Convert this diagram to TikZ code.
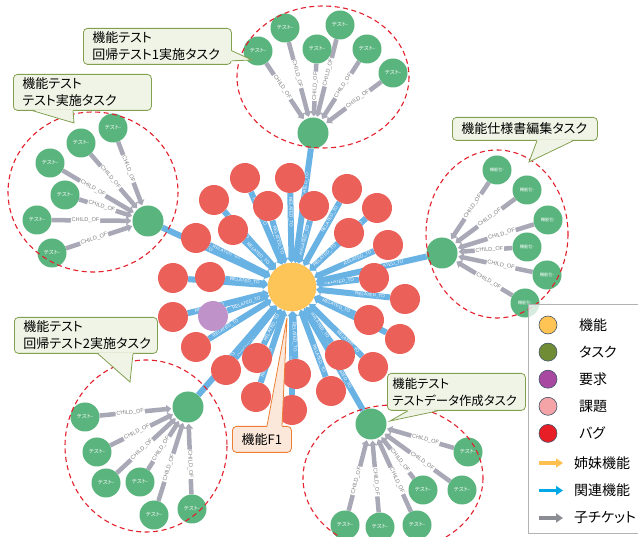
\documentclass[tikz,border=0pt]{standalone}
\usepackage{fontspec}
\setsansfont{Liberation Sans}
\newfontfamily\jp[RawFeature=+palt]{Noto Sans CJK JP}
\usetikzlibrary{arrows.meta,calc}
\pgfdeclarelayer{bg}
\pgfsetlayers{bg,main}

\definecolor{featyellow}{RGB}{253,196,88}
\definecolor{bugred}{RGB}{236,96,90}
\definecolor{reqpurple}{RGB}{192,146,202}
\definecolor{taskgreen}{RGB}{90,180,126}
\definecolor{relblue}{RGB}{104,178,228}
\definecolor{chgray}{RGB}{168,168,182}
\definecolor{grpred}{RGB}{228,32,44}
\definecolor{calloutfill}{RGB}{240,244,230}
\definecolor{calloutline}{RGB}{130,160,80}
\definecolor{notefill}{RGB}{252,232,218}
\definecolor{noteline}{RGB}{236,125,50}
\definecolor{legrim}{RGB}{68,84,106}
\definecolor{legyellow}{RGB}{255,196,84}
\definecolor{leggreen}{RGB}{112,140,52}
\definecolor{legpurple}{RGB}{168,72,160}
\definecolor{legpink}{RGB}{244,164,166}
\definecolor{legred}{RGB}{232,30,38}
\definecolor{sisterarrow}{RGB}{255,192,80}
\definecolor{relarrow}{RGB}{0,168,230}
\definecolor{childarrow}{RGB}{140,140,148}

\begin{document}
\begin{tikzpicture}[x=1pt,y=-1pt,
  feat/.style={circle,fill=featyellow,draw=featyellow!85!orange,minimum size=48pt,inner sep=0},
  bug/.style={circle,fill=bugred,minimum size=30pt,inner sep=0},
  req/.style={circle,fill=reqpurple,minimum size=30pt,inner sep=0},
  task/.style={circle,fill=taskgreen,minimum size=31pt,inner sep=0},
  sub/.style={circle,fill=taskgreen,minimum size=29pt,inner sep=0,text=white,font=\jp\fontsize{5.5}{5.5}\selectfont},
  rel/.style={draw=relblue,line width=6pt,-{Triangle[length=5pt,width=9pt]}},
  rlab/.style={sloped,text=white,font=\sffamily\fontsize{4.6}{4.6}\selectfont,inner sep=0.3pt},
  chld/.style={draw=chgray,line width=4.5pt,-{Triangle[length=5pt,width=8pt]},shorten >=1pt},
  clab/.style={sloped,fill=white,text=gray,font=\sffamily\fontsize{5.6}{5.6}\selectfont,inner sep=0.8pt},
  grp/.style={draw=grpred,line width=1.1pt,dash pattern=on 5pt off 3.5pt},
  callout/.style={draw=calloutline,fill=calloutfill,line width=0.8pt,rounded corners=4pt,anchor=north west,inner xsep=9pt,inner ysep=2pt,align=left,font=\jp\fontsize{13}{17}\selectfont},
  note/.style={callout,draw=noteline,fill=notefill,inner xsep=8pt},
  legdot/.style={circle,draw=legrim,line width=0.6pt,minimum size=18pt,inner sep=0},
  legtext/.style={anchor=west,font=\jp\fontsize{14}{14}\selectfont,inner sep=0},
  legarrow/.style={line width=3.5pt,-{Triangle[length=7pt,width=9pt]}}
]
\useasboundingbox (0,0) rectangle (638,537);

% feature, bugs, tasks
\node[feat] (feat) at (292,287) {};
\foreach \n/\x/\y in {b1/245/178, b2/290/178, b3/214/200, b4/268/206, b5/314/206,
    b6/347/189, b7/377/208, b8/233/230, b9/349/233, b10/388/245, b11/196/238,
    b12/210/277, b13/173/278, b14/374/278, b15/405/299, b16/173/317, b17/369/320,
    b18/400/339, b19/196/347, b20/226/370, b21/257/358, b22/340/355, b23/373/367,
    b24/256/397, b25/296/374, b26/331/391, b27/292/410}
  \node[bug] (\n) at (\x,\y) {};
\node[req] (q1) at (213,316) {};
\node[task] (gTop) at (313,133) {};
\node[task] (gLeft) at (148,221) {};
\node[task] (gRight) at (442,253) {};
\node[task] (gBL) at (188,407) {};
\node[task] (gBR) at (371,424) {};

% child tickets
\foreach \n/\x/\y in {ct1/258/51, ct2/285/28, ct3/317/49, ct4/340/25, ct5/367/49, ct6/393/73}
  \node[sub] (\n) at (\x,\y) {テスト-};
\foreach \n/\x/\y in {cl1/113/128, cl2/81/143, cl3/50/163, cl4/65/195, cl5/37/220, cl6/52/253}
  \node[sub] (\n) at (\x,\y) {テスト-};
\foreach \n/\x/\y in {cr1/497/170, cr2/527/190, cr3/548/220, cr4/527/247, cr5/547/275, cr6/525/303}
  \node[sub,font=\jp\fontsize{4.3}{4.3}\selectfont] (\n) at (\x,\y) {機能仕-};
\foreach \n/\x/\y in {cm1/85/417, cm2/97/452, cm3/106/483, cm4/140/482, cm5/154/515, cm6/192/509}
  \node[sub] (\n) at (\x,\y) {テスト-};
\foreach \n/\x/\y in {cn1/468/452, cn2/462/490, cn3/423/490, cn4/417/525, cn5/380/527, cn6/345/525}
  \node[sub] (\n) at (\x,\y) {テスト-};

\begin{pgfonlayer}{bg}
  \fill[white] (0,0) rectangle (638,537);
  % outer ring
  \foreach \n in {b1,b2,b3,b6,b7,b10,b11,b13,b15,b16,b18,b19,b20,b23,b24,b26,b27}
    \draw[rel] (\n) -- node[rlab,pos=0.27] {RELATED\_TO} (feat);
  % inner ring
  \foreach \n in {b4,b5,b8,b9,b12,b14,b17,b21,b22,b25,q1}
    \draw[rel] (\n) -- node[rlab,pos=0.46] {RELATED\_TO} (feat);
  \foreach \n in {gTop,gLeft,gRight,gBL,gBR}
    \draw[rel] (\n) -- node[rlab,pos=0.34] {RELATED\_TO} (feat);
  \foreach \n in {ct1,ct2,ct3,ct4,ct5,ct6}
    \draw[chld] (\n) -- node[clab,pos=0.42] {CHILD\_OF} (gTop);
  \foreach \n in {cl1,cl2,cl3,cl4,cl5,cl6}
    \draw[chld] (\n) -- node[clab,pos=0.42] {CHILD\_OF} (gLeft);
  \foreach \n in {cr1,cr2,cr3,cr4,cr5,cr6}
    \draw[chld] (\n) -- node[clab,pos=0.42] {CHILD\_OF} (gRight);
  \foreach \n in {cm1,cm2,cm3,cm4,cm5,cm6}
    \draw[chld] (\n) -- node[clab,pos=0.42] {CHILD\_OF} (gBL);
  \foreach \n in {cn1,cn2,cn3,cn4,cn5,cn6}
    \draw[chld] (\n) -- node[clab,pos=0.42] {CHILD\_OF} (gBR);
\end{pgfonlayer}

% groups
\draw[grp] (323,77) ellipse [x radius=86, y radius=71];
\draw[grp] (93,192) ellipse [x radius=85, y radius=80];
\draw[grp] (497,234) ellipse [x radius=71, y radius=84];
\draw[grp] (146,446) ellipse [x radius=81, y radius=86];
\draw[grp] (393,478) ellipse [x radius=90, y radius=73];

% callouts
\node[callout,text width=130pt,minimum height=36pt] (c1) at (83,28) {機能テスト\\回帰テスト1実施タスク};
\node[callout,text width=120pt,minimum height=36pt] (c2) at (13,74) {機能テスト\\テスト実施タスク};
\node[callout,text width=127pt,minimum height=23pt] (c3) at (452,117) {機能仕様書編集タスク};
\node[callout,text width=125pt,minimum height=36pt] (c4) at (14,317) {機能テスト\\回帰テスト2実施タスク};
\node[callout,text width=128pt,inner xsep=5pt,minimum height=37pt,font=\jp\fontsize{12.4}{17}\selectfont] (c5) at (387,373) {機能テスト\\テストデータ作成タスク};
\node[note,minimum width=59pt,minimum height=26pt] (c6) at (232,426) {機能F1};

\coordinate (p1) at (252,60);
\coordinate (p2) at (74,123);
\coordinate (p3) at (529,162);
\coordinate (p4) at (130,382);
\coordinate (p5) at (390,421);
\coordinate (p6) at (287,318);

\fill[calloutfill] ($(c1.south east)+(-1,-14)$) -- (p1) -- ($(c1.south east)+(-1,-4)$) -- cycle;
\draw[calloutline,line width=0.8pt] ($(c1.south east)+(0,-14)$) -- (p1) -- ($(c1.south east)+(0,-4)$);
\fill[calloutfill] ($(c2.south west)+(20,-1)$) -- (p2) -- ($(c2.south west)+(60,-1)$) -- cycle;
\draw[calloutline,line width=0.8pt] ($(c2.south west)+(20,0)$) -- (p2) -- ($(c2.south west)+(60,0)$);
\fill[calloutfill] ($(c3.south west)+(85,-1)$) -- (p3) -- ($(c3.south west)+(121,-1)$) -- cycle;
\draw[calloutline,line width=0.8pt] ($(c3.south west)+(85,0)$) -- (p3) -- ($(c3.south west)+(121,0)$);
\fill[calloutfill] ($(c4.south west)+(84,-1)$) -- (p4) -- ($(c4.south west)+(119,-1)$) -- cycle;
\draw[calloutline,line width=0.8pt] ($(c4.south west)+(84,0)$) -- (p4) -- ($(c4.south west)+(119,0)$);
\fill[calloutfill] ($(c5.south west)+(21,-1)$) -- (p5) -- ($(c5.south west)+(51,-1)$) -- cycle;
\draw[calloutline,line width=0.8pt] ($(c5.south west)+(21,0)$) -- (p5) -- ($(c5.south west)+(51,0)$);
\fill[notefill] ($(c6.north west)+(35,1)$) -- (p6) -- ($(c6.north west)+(50,1)$) -- cycle;
\draw[noteline,line width=0.8pt] ($(c6.north west)+(35,0)$) -- (p6) -- ($(c6.north west)+(50,0)$);

% legend
\fill[white,opacity=0.75] (528,304) rectangle (640,533);
\draw[gray!60,line width=0.8pt] (640,304) -- (528,304) -- (528,533) -- (640,533);
\foreach \c/\t [count=\i] in {legyellow/機能, leggreen/タスク, legpurple/要求, legpink/課題, legred/バグ} {
  \node[legdot,fill=\c] (ld\i) at (548,{325+27.1*(\i-1)}) {};
  \node[legtext] (lx\i) at (579,{325+27.1*(\i-1)}) {\t};
}
\foreach \c/\t [count=\i] in {sisterarrow/姉妹機能, relarrow/関連機能, childarrow/子チケット} {
  \coordinate (la\i) at (539,{463+27.5*(\i-1)});
  \coordinate (lb\i) at (563,{463+27.5*(\i-1)});
  \draw[legarrow,draw=\c,fill=\c] (la\i) -- (lb\i);
  \node[legtext] (ly\i) at (574,{463+27.5*(\i-1)}) {\t};
}
\end{tikzpicture}
\end{document}
